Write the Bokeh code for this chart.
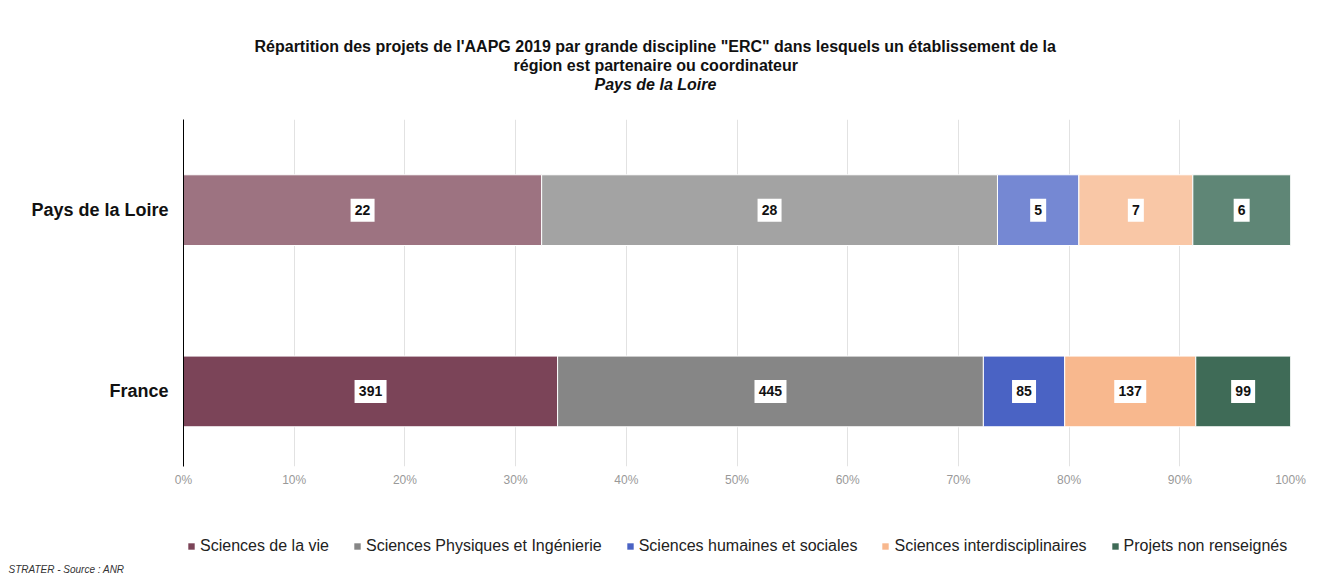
from bokeh.plotting import figure
from bokeh.layouts import column
from bokeh.models import (ColumnDataSource, LabelSet, Legend, LegendItem,
                          Range1d, FixedTicker, NumeralTickFormatter, Title)
from bokeh.core.properties import value
from bokeh.embed import file_html
from bokeh.resources import INLINE

regions = ["Pays de la Loire", "France"]
disciplines = ["Sciences de la vie", "Sciences Physiques et Ingénierie",
               "Sciences humaines et sociales", "Sciences interdisciplinaires",
               "Projets non renseignés"]
pdl_values = [22, 28, 5, 7, 6]
france_values = [391, 445, 85, 137, 99]
colors_france = ["#7b4458", "#868686", "#4a63c4", "#f8b88e", "#3f6b57"]
colors_pdl = ["#9d7381", "#a3a3a3", "#7588d3", "#f9c7a6", "#5f8676"]
tick_values = [0.0, 0.1, 0.2, 0.3, 0.4, 0.5, 0.6, 0.7, 0.8, 0.9, 1.0]
title_lines = [
    "Répartition  des projets de l'AAPG 2019 par grande discipline  \"ERC\" dans lesquels  un établissement  de la",
    "région est partenaire ou coordinateur",
    "Pays de la Loire",
]
source_text = "STRATER - Source : ANR"

FONT = "Liberation Sans"
W = 1320

# numeric positions for the regions (first region on top)
region_pos = {r: len(regions) - 1 - i for i, r in enumerate(regions)}

p = figure(width=W, height=490, output_backend="svg", toolbar_location=None,
           x_range=Range1d(0, 1), y_range=Range1d(-0.414, 1.5),
           min_border_left=183, min_border_right=30, min_border_top=119,
           min_border_bottom=24)
p.title.visible = False
p.outline_line_color = None

series = [pdl_values, france_values]
palettes = [colors_pdl, colors_france]
totals = [sum(s) for s in series]
cums = [0, 0]
lab_x, lab_y, lab_t = [], [], []
sources = []
for i, d in enumerate(disciplines):
    lefts, rights, ys, cols = [], [], [], []
    for k, r in enumerate(regions):
        l = cums[k] / totals[k]
        rr = (cums[k] + series[k][i]) / totals[k]
        cums[k] += series[k][i]
        lefts.append(l)
        rights.append(rr)
        ys.append(region_pos[r])
        cols.append(palettes[k][i])
        lab_x.append((l + rr) / 2)
        lab_y.append(region_pos[r])
        lab_t.append(str(series[k][i]))
    src = ColumnDataSource(dict(y=ys, left=lefts, right=rights, color=cols))
    sources.append(src)
    p.hbar(y="y", left="left", right="right", height=0.39, color="color",
           line_color="white", line_width=1, source=src)

lsrc = ColumnDataSource(dict(x=lab_x, y=lab_y, t=lab_t,
                             w=[8 * len(t) + 8 for t in lab_t]))
p.rect(x="x", y="y", width="w", height=23, width_units="screen",
       height_units="screen", fill_color="white", line_color=None, source=lsrc)
labels = LabelSet(x="x", y="y", text="t", source=lsrc, text_align="center",
                  text_baseline="middle", text_font=value(FONT),
                  text_font_size=value("14px"), text_font_style="bold",
                  text_color="#111111")
p.add_layout(labels)

# axes
p.xaxis.ticker = FixedTicker(ticks=tick_values)
p.xaxis.formatter = NumeralTickFormatter(format="0%")
p.xaxis.axis_line_color = None
p.xaxis.major_tick_line_color = None
p.xaxis.minor_tick_line_color = None
p.xaxis.major_label_text_color = "#999999"
p.xaxis.major_label_text_font = FONT
p.xaxis.major_label_text_font_size = "12px"
p.xaxis.major_label_standoff = 0

p.yaxis.ticker = FixedTicker(ticks=sorted(region_pos.values()))
p.yaxis.major_label_overrides = {v: k for k, v in region_pos.items()}
p.yaxis.axis_line_color = "black"
p.yaxis.axis_line_width = 1
p.yaxis.major_tick_line_color = None
p.yaxis.minor_tick_line_color = None
p.yaxis.major_label_text_font = FONT
p.yaxis.major_label_text_font_size = "18px"
p.yaxis.major_label_text_font_style = "bold"
p.yaxis.major_label_text_color = "#111111"
p.yaxis.major_label_standoff = 9

p.xgrid.grid_line_color = "#e2e2e2"
p.ygrid.grid_line_color = None

# spacer title nearest the frame, then the three title lines
p.add_layout(Title(text="\u00a0", text_font=FONT, text_font_size="16px",
                   standoff=8), "above")
title_styles = ["bold", "bold", "bold italic"]
title_offsets = [71, 330, 411]
for txt, st, off in reversed(list(zip(title_lines, title_styles, title_offsets))):
    p.add_layout(Title(text=txt, align="left", offset=off, text_font=FONT,
                       text_font_size="16px", text_font_style=st,
                       text_color="#111111", standoff=0), "above")

# legend strip below the chart (its frame is aligned with the chart's frame)
q = figure(width=W, height=84, output_backend="svg", toolbar_location=None,
           x_range=Range1d(0, 1), y_range=Range1d(0, 1),
           min_border_left=183, min_border_right=30, min_border_top=0,
           min_border_bottom=0)
q.title.visible = False
q.axis.visible = False
q.grid.visible = False
q.outline_line_color = None

items = []
for d, src in zip(disciplines, sources):
    # zero-height copy of each series: draws nothing, gives the legend its swatch
    rend = q.hbar(y="y", left="left", right="right", height=0, color="color",
                  line_color=None, source=src)
    items.append(LegendItem(label=d, renderers=[rend], index=1))

legend = Legend(items=items, orientation="horizontal", location=(4, 6),
                label_text_font=FONT, label_text_font_size="16px",
                label_text_color="#222222", glyph_width=8, glyph_height=8,
                spacing=24, label_standoff=5, border_line_color=None,
                background_fill_alpha=0, margin=0, padding=4)
q.add_layout(legend)

q.add_layout(Title(text=source_text, align="left", offset=-175,
                   text_font=FONT, text_font_size="10px",
                   text_font_style="italic", text_color="#333333",
                   standoff=0), "below")

open("out.html", "w").write(file_html(column(p, q), INLINE))
